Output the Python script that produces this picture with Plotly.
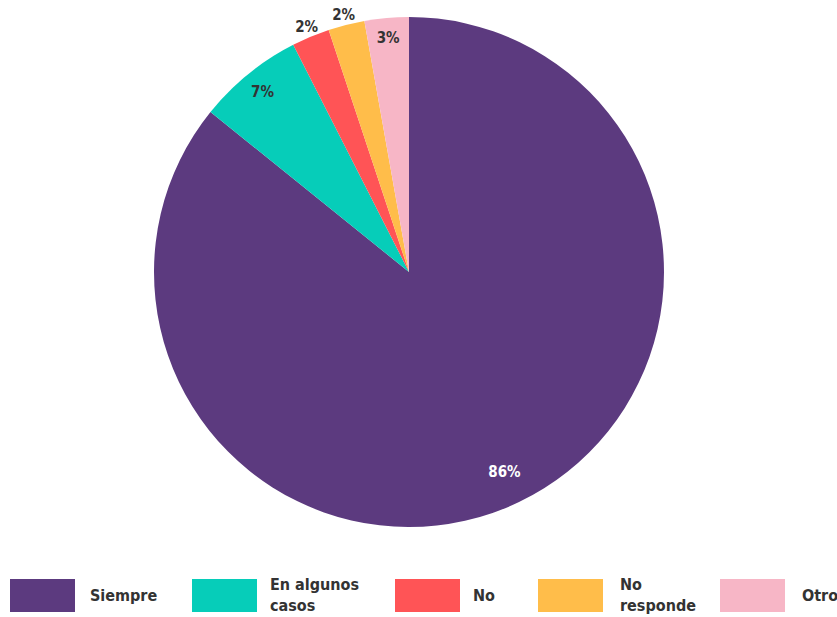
import plotly.graph_objects as go

categories = ["Siempre", "En algunos casos", "No", "No responde", "Otro"]
legend_labels = ["Siempre", "En algunos<br>casos", "No", "No<br>responde", "Otro"]
values = [85.8, 6.7, 2.4, 2.3, 2.8]
colors = ["#5c3a7f", "#06cdb9", "#ff5456", "#ffbd4a", "#f7b6c6"]
label_ring = ["main", "inner", "outer", "outer", "inner"]

FONT = "Liberation Sans Narrow, DejaVu Sans Condensed, Roboto Condensed, sans-serif"
W, H = 837, 617
CX, CY, R = 409, 272, 255

def dom(r, cy=CY):
    return dict(x=[(CX - r) / W, (CX + r) / W], y=[1 - (cy + r) / H, 1 - (cy - r) / H])

transparent = ["rgba(0,0,0,0)"] * len(values)
common = dict(labels=categories, values=values, sort=False, direction="clockwise",
              rotation=0, showlegend=False)

def label_trace(ring, hole, r, color):
    return go.Pie(**common, marker=dict(colors=transparent, line=dict(width=0)),
                  hole=hole, domain=dom(r),
                  texttemplate=["<b>%{percent:.0%}</b>" if g == ring else "" for g in label_ring],
                  textposition="inside", insidetextorientation="horizontal",
                  textfont=dict(family=FONT, size=15, color=color),
                  hoverinfo="skip")

fig = go.Figure()
# coloured pie
fig.add_trace(go.Pie(**common, marker=dict(colors=colors, line=dict(width=0)),
                     textinfo="none", domain=dom(R), hoverinfo="label+percent"))
# label rings
fig.add_trace(label_trace("main", 0.74, R, "#ffffff"))
fig.add_trace(label_trace("inner", 0.82, R, "#333333"))
fig.add_trace(label_trace("outer", 258 / 272, 272, "#333333"))

# custom legend
sw_x = [10, 192, 395, 538, 720]
tx_x = [88, 268, 471, 618, 800]
shapes = []
annotations = []
for i, c in enumerate(colors):
    shapes.append(dict(type="rect", xref="paper", yref="paper",
                       x0=sw_x[i] / W, x1=(sw_x[i] + 65) / W,
                       y0=1 - 612 / H, y1=1 - 579 / H,
                       fillcolor=c, line=dict(width=0)))
    annotations.append(dict(xref="paper", yref="paper", x=tx_x[i] / W, y=1 - 595 / H,
                            xanchor="left", yanchor="middle", showarrow=False, align="left",
                            text="<b>%s</b>" % legend_labels[i],
                            font=dict(family=FONT, size=16, color="#333333")))

fig.update_layout(
    width=W, height=H,
    margin=dict(l=0, r=0, t=0, b=0),
    paper_bgcolor="white", plot_bgcolor="white",
    shapes=shapes, annotations=annotations,
    uniformtext=dict(minsize=15, mode="show"),
)
fig.write_html("out.html", config={"displayModeBar": False},
               post_script="document.body.style.margin='0';document.body.style.overflow='hidden';")
